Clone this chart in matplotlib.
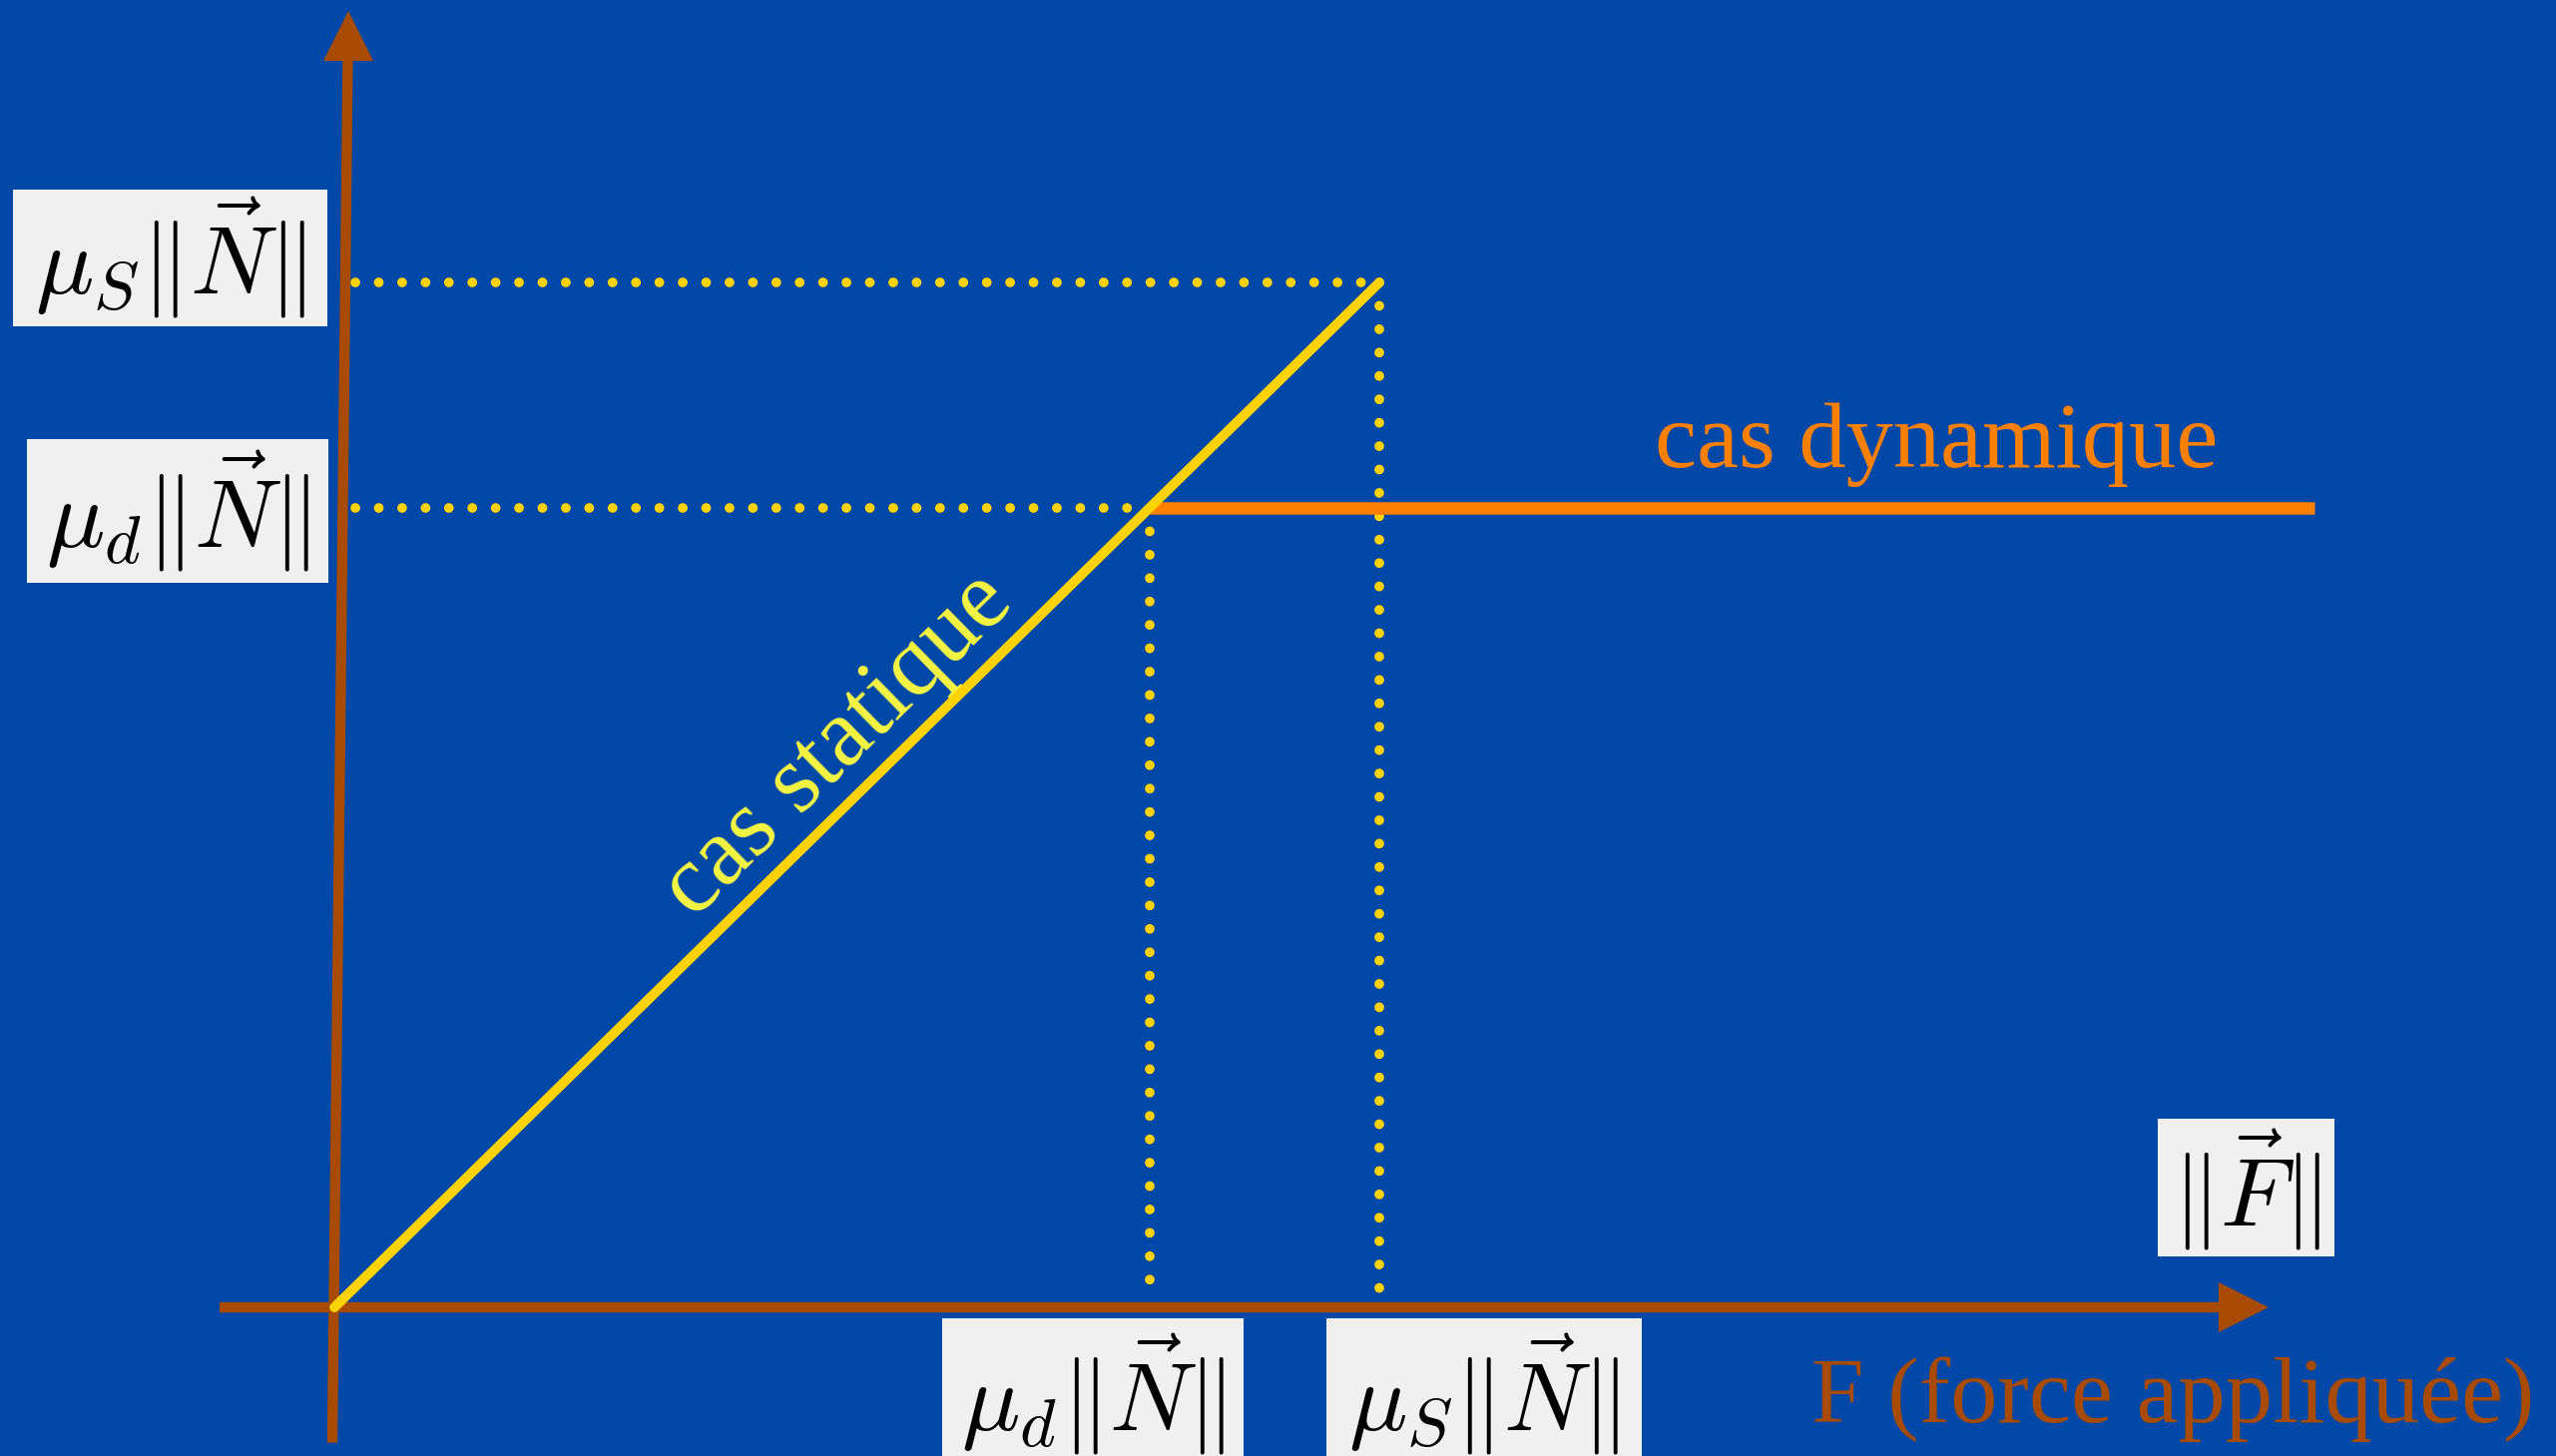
import matplotlib
matplotlib.use("Agg")
import matplotlib.pyplot as plt
from matplotlib.patches import Rectangle
import numpy as np

plt.rcParams['mathtext.fontset'] = 'cm'

# friction force vs applied force (units of mu_S*||N||)
mu_s_N = 1.0
mu_d_N = 0.78
F_max = 1.895
static_F = [0.0, mu_s_N]
static_f = [0.0, mu_s_N]
dyn_F = [mu_d_N, F_max]
dyn_f = [mu_d_N, mu_d_N]

# axis arrows extent
x_axis = [-0.11, 1.851]
y_axis = [-0.132, 1.264]

lbl_ms = r'$\mu_S\Vert\vec{N}\Vert$'
lbl_md = r'$\mu_d\Vert\vec{N}\Vert$'
lbl_F = r'$\Vert\vec{F}\Vert$'

bg = '#0048a8'
brown = '#a84b00'
yellow = '#ffd200'
orange = '#ff7f00'
pale = '#f5f542'
boxc = '#f0f0f0'

fig = plt.figure(figsize=(25.61, 14.59), dpi=100, facecolor=bg)
ax = fig.add_axes([0, 0, 1, 1])
ax.set_facecolor(bg)
ax.set_xlim(-0.32, 2.126)
ax.set_ylim(-0.145, 1.2756)
ax.axis('off')

# axes with arrows
ax.plot([x_axis[0], x_axis[1] - 0.03], [0, 0], color=brown, lw=7.5, solid_capstyle='butt', zorder=2)
ax.plot([-0.002, 0.013], [y_axis[0], y_axis[1] - 0.03], color=brown, lw=7.5,
        solid_capstyle='butt', zorder=2)
ax.plot(x_axis[1] - 0.024, 0, marker='>', ms=36, color=brown, mew=0, zorder=2)
ax.plot(0.013, y_axis[1] - 0.023, marker='^', ms=36, color=brown, mew=0, zorder=2)

# dotted guides
dots = dict(color=yellow, lw=7, linestyle=(0, (0.01, 2.4)), dash_capstyle='round', zorder=3)
ax.plot([0.02, mu_s_N], [mu_s_N, mu_s_N], **dots)
ax.plot([mu_s_N, mu_s_N], [mu_s_N, 0], **dots)
ax.plot([0.02, mu_d_N], [mu_d_N, mu_d_N], **dots)
ax.plot([mu_d_N, mu_d_N], [mu_d_N, 0.01], **dots)

# curves
ax.plot(dyn_F, dyn_f, color=orange, lw=9, solid_capstyle='butt', zorder=4)
ax.plot(static_F, static_f, color=yellow, lw=7, solid_capstyle='round', zorder=5)

ax.text(1.533, mu_d_N + 0.04, 'cas dynamique', color=orange, fontsize=68,
        family='Liberation Serif', ha='center', va='baseline')
ang = np.degrees(np.arctan2(1027, 1047))
ax.text(0.482, 0.548, 'cas statique', color=pale, fontsize=70,
        family='Liberation Serif', ha='center', va='center', rotation=ang,
        rotation_mode='anchor')
ax.text(1.759, -0.112, 'F (force appliquée)', color=brown, fontsize=68,
        family='Liberation Serif', ha='center', va='baseline')

# label boxes: (text, box center x, box center y, width, height, text y)
labels = [
    (lbl_ms, -0.157, mu_s_N + 0.024, 0.301, 0.134, mu_s_N + 0.024),
    (lbl_md, -0.150, mu_d_N - 0.003, 0.288, 0.140, mu_d_N - 0.003),
    (lbl_md, 0.726, -0.078, 0.289, 0.134, -0.085),
    (lbl_ms, 1.100, -0.078, 0.302, 0.134, -0.085),
    (lbl_F, 1.829, 0.117, 0.169, 0.135, 0.115),
]
for txt, cx, cy, w, h, ty in labels:
    ax.add_patch(Rectangle((cx - w / 2, cy - h / 2), w, h, fc=boxc, ec='none', zorder=6))
    ax.text(cx, ty, txt, fontsize=70, color='black', ha='center', va='center', zorder=7)

fig.savefig('out.png', dpi=100, facecolor=bg)
